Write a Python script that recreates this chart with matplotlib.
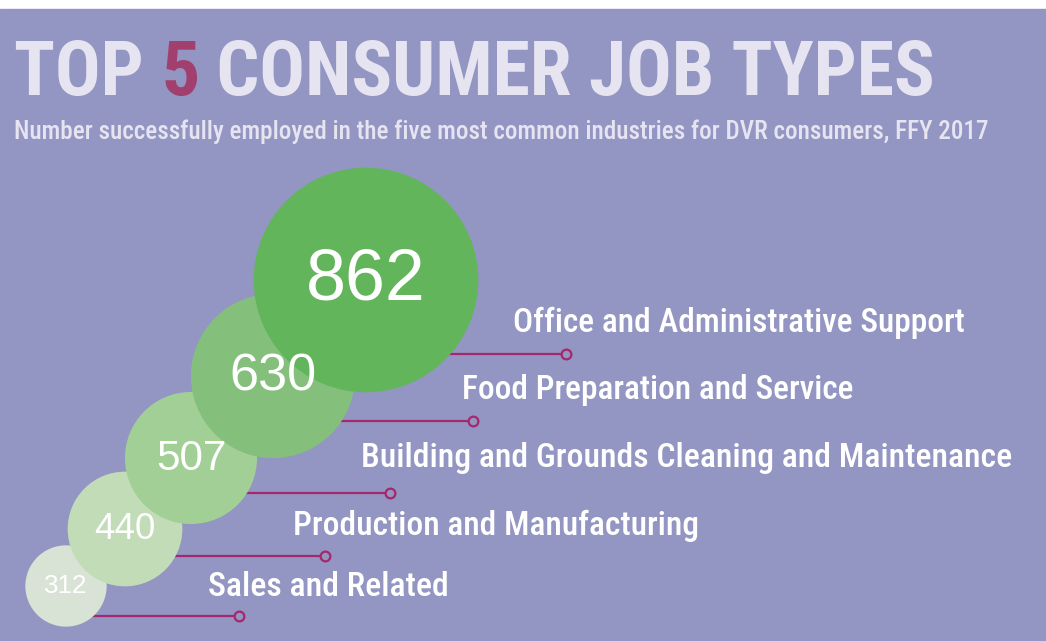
import matplotlib.pyplot as plt
from matplotlib import font_manager as fm
from matplotlib.patches import Circle, Rectangle

# data
categories = ['Office and Administrative Support', 'Food Preparation and Service',
              'Building and Grounds Cleaning and Maintenance', 'Production and Manufacturing',
              'Sales and Related']
values = [862, 630, 507, 440, 312]

# layout (pixels)
W, H = 1046, 641
centers = [(366, 280), (273, 376), (191, 458), (125, 529), (66, 586)]
line_y = [354, 421, 493, 556, 616]
line_end = [566, 473, 390, 325, 239]
label_x = [513, 462, 361, 293, 208]
label_base = [332, 399, 467, 535, 596]
label_w = [452, 391, 651, 405, 241]
px_per_unit = 0.1303

circle_colors = ['#63b55b', '#84c07b', '#a2cf95', '#c2dcb8', '#d8e3d6']
bg = '#9395c2'
title_col = '#e6e4f1'
accent = '#a1406f'
line_col = '#a3286c'


def wnum(w):
    if isinstance(w, int):
        return w
    return {'normal': 400, 'regular': 400, 'book': 400, 'medium': 500, 'semibold': 600,
            'bold': 700, 'heavy': 800, 'black': 900, 'light': 300}.get(str(w).lower(), 400)


def find_narrow(weight):
    # look for an installed condensed / narrow face closest to the wanted weight
    best = None
    for f in fm.fontManager.ttflist:
        n = f.name + ' ' + str(f.stretch)
        if ('Condensed' in n or 'Narrow' in n or 'condensed' in n) and 'Semi' not in n and f.style == 'normal':
            score = abs(wnum(f.weight) - weight) + (0 if 'Roboto' in f.name else 50)
            if best is None or score < best[0]:
                best = (score, f)
    if best is None:
        return fm.FontProperties(family=['Roboto', 'DejaVu Sans'], weight=weight)
    return fm.FontProperties(fname=best[1].fname)


fp_bold = find_narrow(700)
fp_med = find_narrow(500)

fig = plt.figure(figsize=(W / 100, H / 100), dpi=100)
ax = fig.add_axes([0, 0, 1, 1])
ax.set_xlim(0, W)
ax.set_ylim(H, 0)
ax.axis('off')
ax.add_patch(Rectangle((0, 9), W, H - 9, color=bg, zorder=0))
fig.canvas.draw()
rend = fig.canvas.get_renderer()


def fit(txt, size, width):
    # scale the font so the text spans the same width as in the reference
    txt.set_fontsize(size)
    w = txt.get_window_extent(rend).width
    txt.set_fontsize(size * width / w)
    return txt


pt = 72 / 100  # pixel -> point

# title
title = ax.text(14, 95, 'TOP 5 CONSUMER JOB TYPES', fontproperties=fp_bold, color=title_col, va='baseline')
fit(title, 78 * pt, 923)
title.set_text('TOP ')
five = ax.annotate('5', xy=(1, 0), xycoords=title, fontproperties=fp_bold, fontsize=title.get_fontsize(),
                   color=accent, va='bottom')
rest = ax.annotate(' CONSUMER JOB TYPES', xy=(1, 0), xycoords=five, fontproperties=fp_bold,
                   fontsize=title.get_fontsize(), color=title_col, va='bottom')
sub = ax.text(14, 139, 'Number successfully employed in the five most common industries for DVR consumers, FFY 2017',
              fontproperties=fp_med, color=title_col, va='baseline')
fit(sub, 24.5 * pt, 974)

for i, v in enumerate(values):
    cx, cy = centers[i]
    rad = v * px_per_unit
    ax.plot([cx, line_end[i]], [line_y[i], line_y[i]], color=line_col, lw=1.6,
            marker='o', markevery=[1], ms=7, mfc=bg, mec=line_col, mew=1.6, zorder=1)
    ax.add_patch(Circle((cx, cy), rad, color=circle_colors[i], lw=0, zorder=10 - i))
    ax.text(cx, cy + rad * 0.01, str(v), fontsize=rad * 0.46, family=['Liberation Sans', 'DejaVu Sans'],
            color='white', ha='center', va='center', zorder=20)
    lab = ax.text(label_x[i], label_base[i], categories[i], fontproperties=fp_med,
                  color='white', va='baseline', zorder=20)
    fit(lab, 33 * pt, label_w[i])

fig.savefig('out.png', dpi=100)
